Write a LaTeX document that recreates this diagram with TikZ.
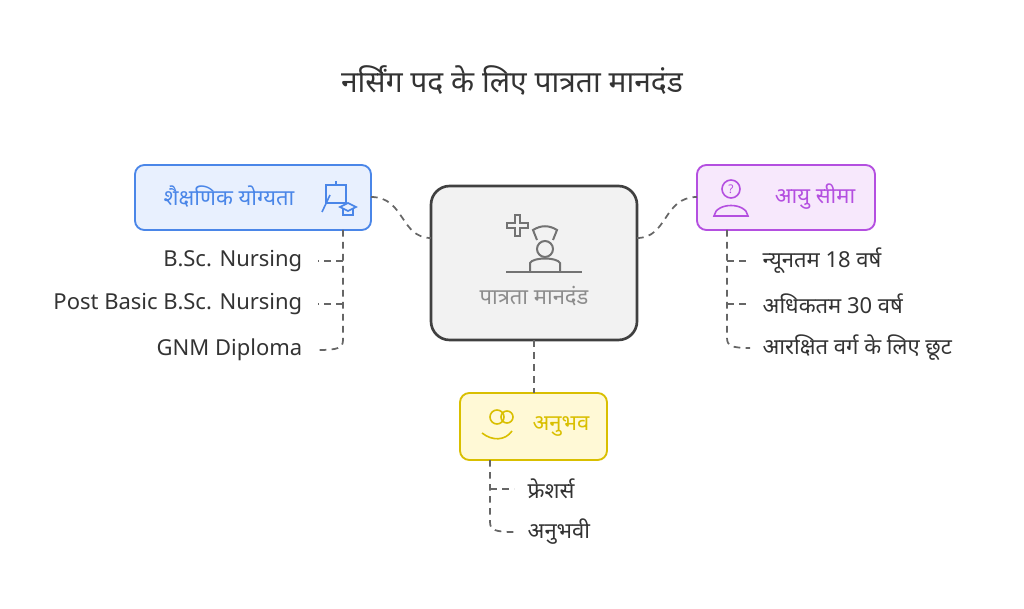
\documentclass[tikz,border=0pt]{standalone}
\usepackage{fontspec}
\setmainfont[Script=Devanagari]{Noto Sans}
\definecolor{bl}{HTML}{4A86E8}
\definecolor{blf}{HTML}{E8F0FE}
\definecolor{pu}{HTML}{B44FE0}
\definecolor{puf}{HTML}{F7E8FC}
\definecolor{ye}{HTML}{D9BF00}
\definecolor{yef}{HTML}{FFF9D6}
\begin{document}
\begin{tikzpicture}[x=0.75pt,y=-0.75pt,
  conn/.style={draw=gray!80!black,dashed,line width=1.3pt,dash pattern=on 5pt off 4pt},
  lbl/.style={font=\fontsize{16.5}{20}\selectfont,text=black!80},
  cat/.style={rounded corners=7pt,line width=1.4pt}]
\useasboundingbox (0,0) rectangle (1024,609);
\node (title) at (512,80) {\fontsize{22.5}{26}\selectfont\color{black!80}नर्सिंग पद के लिए पात्रता मानदंड};
% center
\draw[rounded corners=14pt,fill=black!5,draw=black!75,line width=2pt] (431,186) rectangle (637,340);
\node (c) at (534,263) [minimum width=154pt,minimum height=115pt] {};
\node[lbl,text=black!45] (ct) at (534,296) {पात्रता मानदंड};
% nurse icon
\begin{scope}[draw=black!55,line width=1.5pt]
\draw (507,223) -- (515,223) -- (515,215) -- (520,215) -- (520,223) -- (528,223) -- (528,228) -- (520,228) -- (520,236) -- (515,236) -- (515,228) -- (507,228) -- cycle;
\draw (537,240) -- (533,230) .. controls (541,225) and (549,225) .. (557,230) -- (553,240);
\draw (545,249) circle (8);
\draw (530,272) -- (530,263) .. controls (533,257) and (557,257) .. (560,263) -- (560,272);
\draw (506,272) -- (582,272);
\end{scope}
% left
\draw[cat,fill=blf,draw=bl] (135,165) rectangle (371,230);
\node[lbl,text=bl] (l) at (229,197) {शैक्षणिक योग्यता};
\coordinate (lr) at (371,197);
\begin{scope}[draw=bl,line width=1.2pt]
\draw (326,185) rectangle (346,203); \draw (336,181)--(336,185);
\draw (322,212) -- (330,195); \draw (340,207)--(348,203)--(356,207)--(348,211)--cycle; \draw (343,209)--(343,215)--(353,215)--(353,209);
\end{scope}
% right
\draw[cat,fill=puf,draw=pu] (697,165) rectangle (875,230);
\node[lbl,text=pu] (r) at (815,197) {आयु सीमा};
\coordinate (rl) at (697,197);
\begin{scope}[draw=pu,line width=1.2pt]
\draw (731,189) circle (9); \node[font=\bfseries\small,text=pu] at (731,189) {?};
\draw (714,216) .. controls (716,202) and (746,202) .. (748,216) -- cycle;
\end{scope}
% bottom
\draw[cat,fill=yef,draw=ye] (460,393) rectangle (607,460);
\node[lbl,text=ye] (b) at (561,426) {अनुभव};
\begin{scope}[draw=ye,line width=1.2pt]
\draw (497,417) circle (7); \draw (507,417) circle (6);
\draw (482,433) .. controls (492,441) and (505,441) .. (512,431);
\end{scope}
% connectors
\draw[conn] (lr) .. controls (405,197) and (400,238) .. (431,238);
\draw[conn] (637,238) .. controls (668,238) and (663,197) .. (rl);
\draw[conn] (534,340) -- (534,393);
% left list
\node[lbl,anchor=east] (l1) at (307,261) {B.Sc. Nursing};
\node[lbl,anchor=east] (l2) at (307,304) {Post Basic B.Sc. Nursing};
\node[lbl,anchor=east] (l3) at (307,350) {GNM Diploma};
\draw[conn] (343,230) -- (343,340) .. controls (343,348) and (338,350) .. (318,350);
\draw[conn] (343,261) -- (318,261);
\draw[conn] (343,304) -- (318,304);
% right list
\node[lbl,anchor=west] (r1) at (758,261) {न्यूनतम 18 वर्ष};
\node[lbl,anchor=west] (r2) at (758,304) {अधिकतम 30 वर्ष};
\node[lbl,anchor=west] (r3) at (758,348) {आरक्षित वर्ग के लिए छूट};
\draw[conn] (727,230) -- (727,338) .. controls (727,346) and (732,348) .. (750,348);
\draw[conn] (727,261) -- (750,261);
\draw[conn] (727,304) -- (750,304);
% bottom list
\node[lbl,anchor=west] (b1) at (523,489) {फ्रेशर्स};
\node[lbl,anchor=west] (b2) at (523,532) {अनुभवी};
\draw[conn] (490,460) -- (490,522) .. controls (490,530) and (495,532) .. (514,532);
\draw[conn] (490,489) -- (514,489);
\end{tikzpicture}
\end{document}
